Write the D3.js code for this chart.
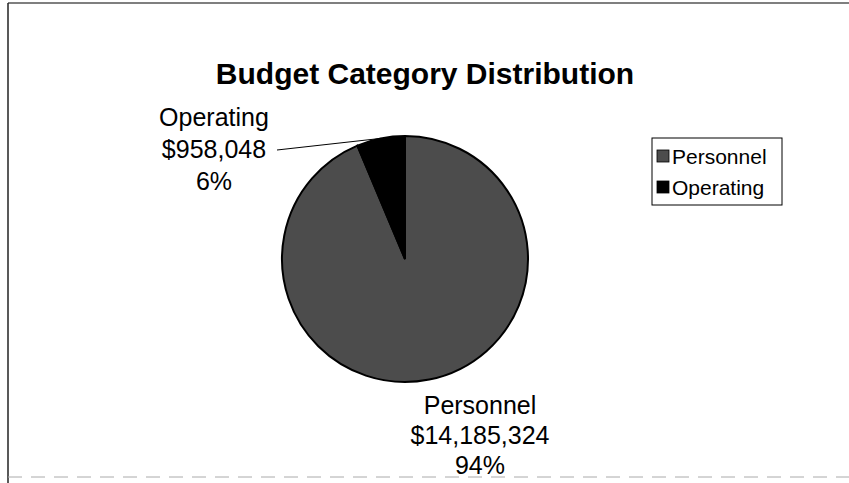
<!DOCTYPE html>
<html>
<head>
<meta charset="utf-8">
<script src="https://cdn.jsdelivr.net/npm/d3@7"></script>
<style>
  html, body { margin: 0; padding: 0; background: #fff; }
  text { font-family: "Liberation Sans", Arial, sans-serif; fill: #000; }
</style>
</head>
<body>
<script>
// chart data
const categories = ['Personnel', 'Operating'];
const amounts = [14185324, 958048];
const percentLabels = ['94%', '6%'];
const sliceColors = ['#4c4c4c', '#000000'];

const width = 849, height = 483;
const cx = 405, cy = 259, radius = 123;

const svg = d3.select('body').append('svg')
    .attr('width', width)
    .attr('height', height);

// frame (scanned page look)
svg.append('line').attr('x1', 8).attr('x2', 849).attr('y1', 3).attr('y2', 3)
    .attr('stroke', '#555').attr('stroke-width', 1.5);
svg.append('line').attr('x1', 8).attr('x2', 8).attr('y1', 3).attr('y2', 483)
    .attr('stroke', '#222').attr('stroke-width', 1.5);
svg.append('line').attr('x1', 8).attr('x2', 849).attr('y1', 477).attr('y2', 477)
    .attr('stroke', '#aaa').attr('stroke-width', 1).attr('stroke-dasharray', '14 9');

svg.append('text')
    .attr('x', 425).attr('y', 84)
    .attr('text-anchor', 'middle')
    .style('font-size', '30px').style('font-weight', 'bold')
    .text('Budget Category Distribution');

const data = categories.map((c, i) => ({ name: c, value: amounts[i], pct: percentLabels[i], color: sliceColors[i] }));

const pie = d3.pie().sort(null).value(d => d.value);
const arc = d3.arc().innerRadius(0).outerRadius(radius);
const arcs = pie(data);

const g = svg.append('g').attr('transform', `translate(${cx},${cy})`);
g.selectAll('path').data(arcs).join('path')
    .attr('d', arc)
    .attr('fill', d => d.data.color)
    .attr('stroke', '#000')
    .attr('stroke-width', 2);

const fmt = d3.format('$,');

// labels: [x, first baseline, line gap]
const labelPos = [
  { x: 480, y: 414, gap: 30 },
  { x: 214, y: 126, gap: 32 }
];
arcs.forEach((a, i) => {
  const p = labelPos[i];
  const t = svg.append('text')
      .attr('text-anchor', 'middle')
      .style('font-size', '25px');
  [a.data.name, fmt(a.data.value), a.data.pct].forEach((s, k) => {
    t.append('tspan').attr('x', p.x).attr('y', p.y + k * p.gap).text(s);
  });
});

// leader line for Operating slice
const op = arcs[1];
const mid = (op.startAngle + op.endAngle) / 2;
svg.append('polyline')
    .attr('points', [[277, 150], [cx + radius * Math.sin(mid), cy - radius * Math.cos(mid)]].map(p => p.join(',')).join(' '))
    .attr('fill', 'none').attr('stroke', '#000').attr('stroke-width', 1);

// legend
const legend = svg.append('g').attr('transform', 'translate(652,138)');
legend.append('rect').attr('width', 130).attr('height', 67)
    .attr('fill', '#fff').attr('stroke', '#000').attr('stroke-width', 1);
data.forEach((d, i) => {
  const row = legend.append('g').attr('transform', `translate(0,${18 + i * 31})`);
  row.append('rect').attr('x', 5).attr('y', -6).attr('width', 12).attr('height', 12)
      .attr('fill', d.color).attr('stroke', '#000').attr('stroke-width', 0.8);
  row.append('text').attr('x', 20).attr('y', 8).style('font-size', '21px').text(d.name);
});
</script>
</body>
</html>
